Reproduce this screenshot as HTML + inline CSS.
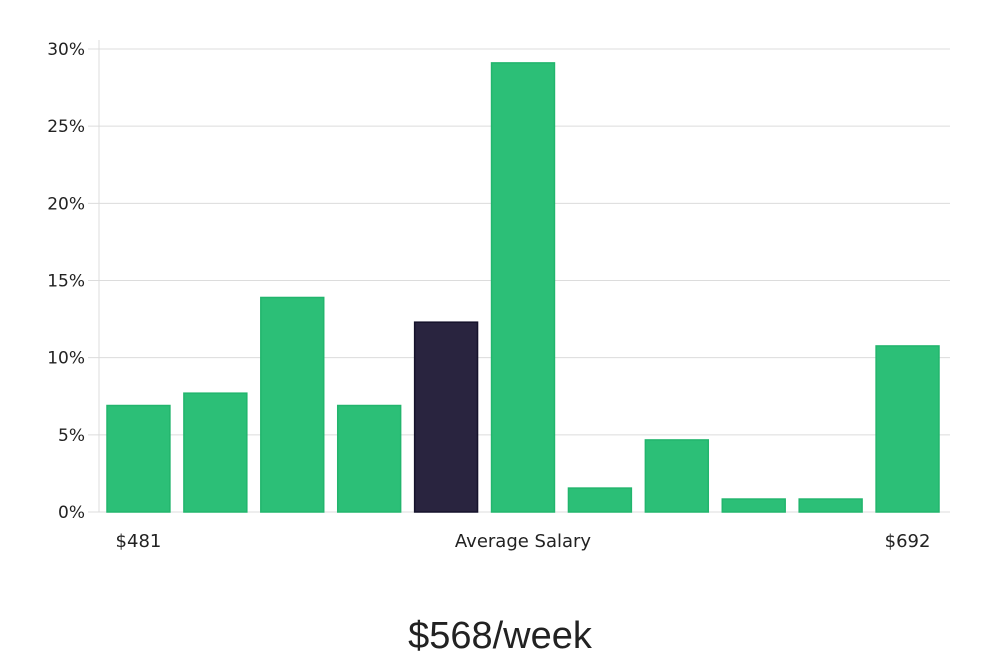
<!DOCTYPE html>
<html><head><meta charset="utf-8"><style>
body{margin:0;background:#fff;width:1000px;height:660px;overflow:hidden;font-family:"DejaVu Sans","Liberation Sans",sans-serif;}
</style></head><body>
<svg id="chart" width="1000" height="660" xmlns="http://www.w3.org/2000/svg"></svg>
<script>
const categories=["b1","b2","b3","b4","b5","b6","b7","b8","b9","b10","b11"];
const values=[6.9,7.7,13.9,6.9,12.3,29.1,1.55,4.67,0.84,0.84,10.76];
const highlightIndex=4;
const yTicks=[0,5,10,15,20,25,30];
const xLabels=["$481","Average Salary","$692"];
const title="$568/week";
const svg=document.getElementById('chart');
const NS="http://www.w3.org/2000/svg";
const y0=512,yTop=49,yMax=30,xL=99,xR=950;
const y=v=>y0-(v/yMax)*(y0-yTop);
const step=(xR-xL-5)/categories.length;
const x=i=>xL+8+i*step;
const bw=step-14;
function mk(t,a){const e=document.createElementNS(NS,t);for(const k in a)e.setAttribute(k,a[k]);svg.appendChild(e);return e;}
yTicks.forEach(t=>{
 const g=mk('line',{x1:88,x2:xR,y1:y(t),y2:y(t),stroke:'#dcdcdc','stroke-width':1});
 
 
 const l=mk('text',{x:85,y:y(t)+6,'text-anchor':'end','font-size':17,fill:'#222'});
 l.textContent=t+'%';
 
 
});
const ax=mk('line',{x1:xL,x2:xL,y1:40,y2:y0,stroke:'#dcdcdc'});


values.forEach((v,i)=>{
 const hi=i===highlightIndex;
 const r=mk('rect',{x:x(i),y:y(v),width:bw,height:y0-y(v),fill:hi?'#29243f':'#2cbf77',stroke:hi?'#15122b':'#22b56d','stroke-width':1.5});
 
 
});
const pos=[[x(0)+bw/2,'middle'],[x(5)+bw/2,'middle'],[x(10)+bw/2,'middle']];
xLabels.forEach((s,i)=>{
 const t=mk('text',{x:pos[i][0],y:547,'text-anchor':pos[i][1],'font-size':18,fill:'#222'});
 t.textContent=s;
 
 
});
const tt=mk('text',{x:500,y:648,'text-anchor':'middle','font-size':38,fill:'#222','font-family':'"Liberation Sans",sans-serif'});
tt.textContent=title;


</script>
</body></html>
